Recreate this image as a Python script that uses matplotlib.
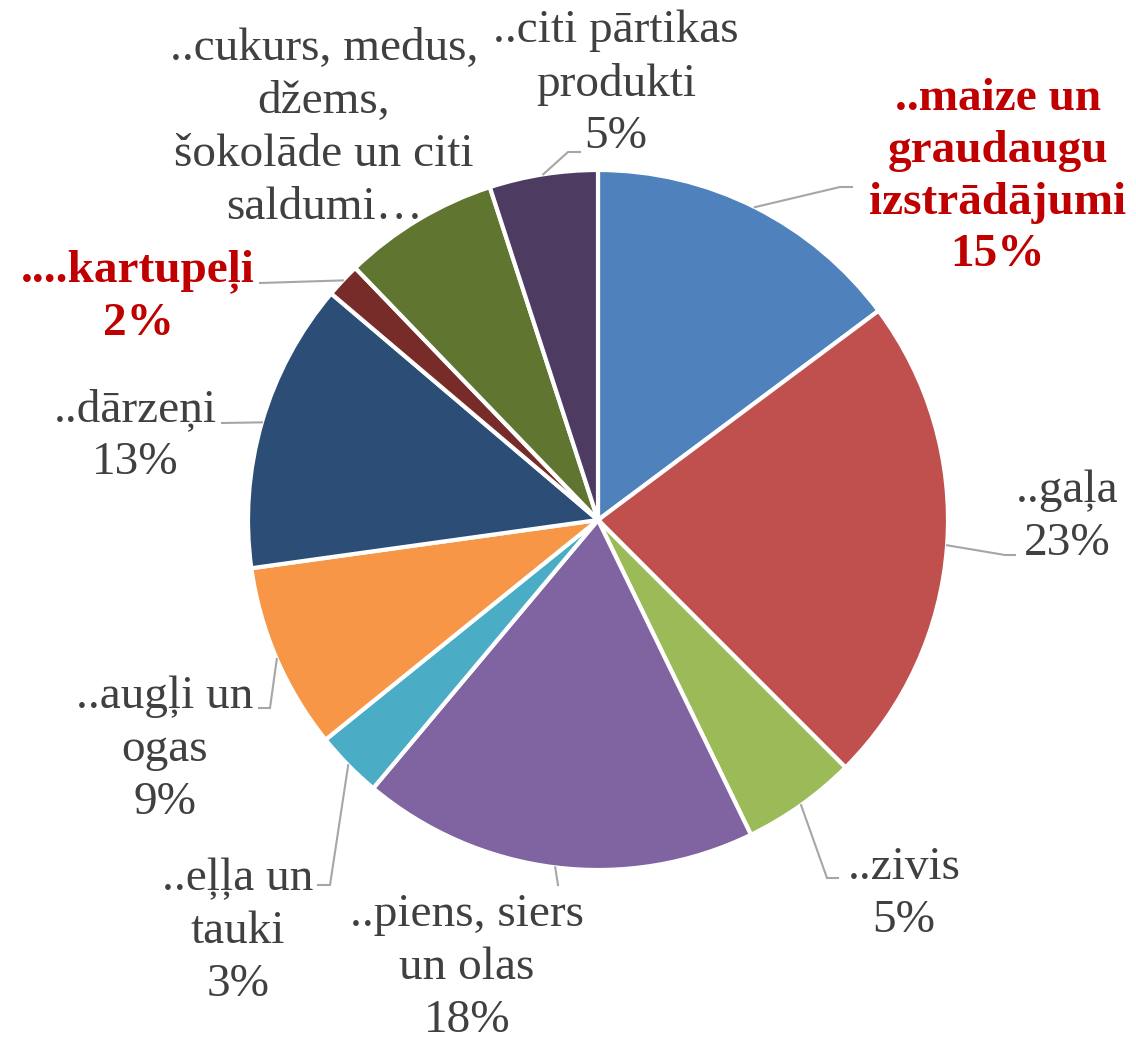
import numpy as np
import matplotlib.pyplot as plt

plt.rcParams['font.family'] = ['Liberation Serif', 'DejaVu Serif']

# dati
nosaukumi = ["..maize un\ngraudaugu\nizstrādājumi", "..gaļa", "..zivis",
             "..piens, siers\nun olas", "..eļļa un\ntauki", "..augļi un\nogas",
             "..dārzeņi", "....kartupeļi",
             "..cukurs, medus,\ndžems,\nšokolāde un citi\nsaldumi…",
             "..citi pārtikas\nprodukti"]
vertibas = [14.8, 22.7, 5.3, 18.3, 3.1, 8.6, 13.4, 1.6, 7.2, 5.0]
rada_proc = [True, True, True, True, True, True, True, True, False, True]
izcelti = [True, False, False, False, False, False, False, True, False, False]
krasas = ["#4F81BD", "#C0504D", "#9BBB59", "#8064A2", "#4BACC6",
          "#F79646", "#2C4D75", "#772C2A", "#5F7530", "#4D3B62"]

# izkārtojums (pikseļi, y no augšas)
W, H = 1136, 1042
cx, cy, r = 598, 520, 350
teksta_viet = [(998, 177), (1067, 517), (904, 894), (467, 968), (238, 932),
               (165, 750), (135, 436), (138, 297), (324, 128), (616, 84)]
lauzums = [(840, 187, 852), (1005, 555, 1015), (827, 878, 838), (558, 885, 558),
           (330, 885, 318), (270, 708, 259), (222, 423, 222), (260, 283, 260),
           None, (568, 152, 580)]

fig = plt.figure(figsize=(W / 100, H / 100), dpi=100)
ax = fig.add_axes([0, 0, 1, 1])

wedges, _ = ax.pie(vertibas, colors=krasas, startangle=-90, counterclock=True,
                   center=(cx, cy), radius=r, frame=True,
                   wedgeprops=dict(edgecolor='white', linewidth=3))
ax.set_xlim(0, W)
ax.set_ylim(H, 0)
ax.set_aspect('equal')
ax.axis('off')

for i, w in enumerate(wedges):
    teksts = nosaukumi[i]
    if rada_proc[i]:
        teksts += f"\n{round(vertibas[i])}%"
    krasa = '#C00000' if izcelti[i] else '#404040'
    svars = 'bold' if izcelti[i] else 'normal'
    tx, ty = teksta_viet[i]
    ax.text(tx, ty, teksts, ha='center', va='center', fontsize=34,
            color=krasa, fontweight=svars, linespacing=1.32)
    if lauzums[i] is not None:
        vid = np.deg2rad((w.theta1 + w.theta2) / 2)
        x0 = cx + r * np.cos(vid)
        y0 = cy + r * np.sin(vid)
        ex, ey, hx = lauzums[i]
        ax.plot([x0, ex, hx], [y0, ey, ey], color='#A6A6A6', lw=1.5,
                solid_joinstyle='miter')

fig.savefig('out.png', dpi=100)
